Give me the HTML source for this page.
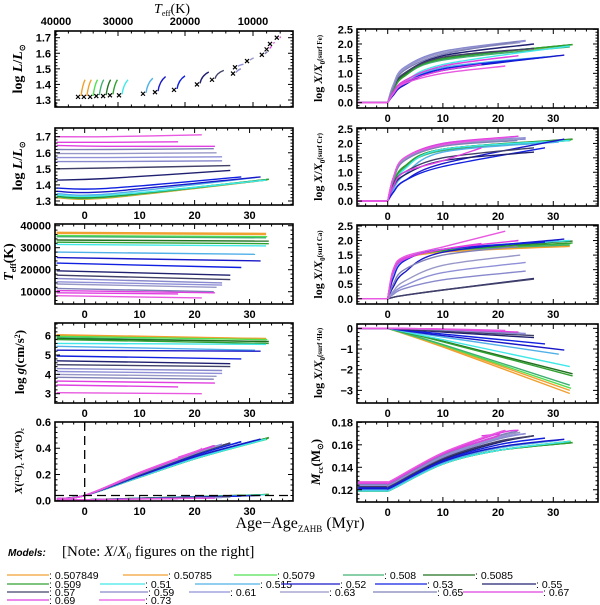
<!DOCTYPE html>
<html><head><meta charset="utf-8">
<style>
html,body{margin:0;padding:0;background:#fff;}
svg{display:block;font-family:"Liberation Sans",sans-serif;}
</style></head>
<body>
<svg id="fig" width="600" height="605" viewBox="0 0 600 605" xmlns="http://www.w3.org/2000/svg"></svg>
<script>
// ===== data =====
const masses = ["0.507849","0.50785","0.5079","0.508","0.5085","0.509","0.51","0.515","0.52","0.53","0.55","0.57","0.59","0.61","0.63","0.65","0.67","0.69","0.73"];
const colors = ["#f0a030","#f0a030","#50e050","#40b070","#207020","#30a030","#40e8e8","#50b0e8","#1818c8","#1020e0","#202070","#404068","#8888cc","#9090d8","#9898c8","#8080b8","#e040e0","#e040e0","#e858e0"];
const endAge = [33,33,33.2,33,33.5,33.5,33,31,32,28.5,26.5,26.5,25,25,24,23.5,23.7,17,21.3];
const logL0 = [1.32,1.322,1.324,1.326,1.33,1.332,1.336,1.345,1.36,1.38,1.43,1.50,1.545,1.57,1.595,1.62,1.645,1.665,1.70];
const logLmid = [1.318,1.32,1.322,1.324,1.328,1.33,1.334,1.343,1.358,1.378,1.44,1.505,1.545,1.57,1.595,1.62,1.64,1.665,1.70];
const logL1 = [1.43,1.43,1.432,1.43,1.435,1.435,1.43,1.445,1.45,1.45,1.49,1.52,1.55,1.575,1.60,1.625,1.64,1.668,1.712];
const hrTeff0 = [36450,35500,34500,33500,32400,31300,29850,26270,24480,21640,18240,16030,12940,12650,10880,8700,8000,7500,6500];
const hrTeff1 = [35300,34300,33300,32300,31200,30100,28500,24800,22900,20000,16500,14300,11800,11400,9900,7900,7300,6900,6100];
const hrL0 = [1.32,1.32,1.32,1.325,1.325,1.33,1.33,1.34,1.35,1.365,1.40,1.43,1.47,1.51,1.55,1.59,1.625,1.66,1.70];
const hrL1 = [1.43,1.43,1.43,1.43,1.43,1.43,1.43,1.44,1.45,1.455,1.48,1.49,1.50,1.53,1.57,1.61,1.645,1.67,1.70];
const teff0 = [37000,36500,35500,35000,33500,32500,31500,28000,25500,23000,19500,17500,16000,14500,13500,11500,10500,9500,8200];
const teff1 = [36500,36000,35000,34500,33000,31800,30800,27000,24000,21000,17500,15500,14000,13000,12000,10000,9500,9000,7200];
const logg0 = [6.05,6.0,5.97,5.9,5.85,5.8,5.6,5.45,5.25,4.95,4.7,4.5,4.3,4.15,4.0,3.85,3.65,3.45,3.05];
const logg1 = [5.85,5.85,5.8,5.7,5.7,5.6,5.55,5.25,5.2,4.8,4.55,4.4,4.2,4.05,3.9,3.75,3.55,3.35,3.0];
const anchorAges = [1,3,10];
const fe = [[0.4,0.9,1.5,1.95],[0.45,0.95,1.5,1.95],[0.45,0.95,1.5,1.97],[0.4,0.9,1.45,1.9],[0.45,0.95,1.5,1.98],[0.45,0.9,1.5,1.98],[0.3,0.7,1.3,1.93],[0.3,0.65,1.2,1.6],[0.25,0.6,1.1,1.62],[0.3,0.65,1.15,1.55],[0.5,1.0,1.6,2.0],[0.5,1.0,1.55,1.85],[0.6,1.2,1.75,2.12],[0.6,1.2,1.7,2.1],[0.55,1.15,1.7,2.05],[0.5,1.1,1.65,2.08],[0.35,0.75,1.25,1.6],[0.3,0.7,1.1,1.3],[0.3,0.65,1.0,1.25]];
const cr = [[0.6,1.2,1.8,2.12],[0.6,1.2,1.8,2.1],[0.6,1.2,1.8,2.12],[0.55,1.15,1.75,2.1],[0.6,1.2,1.8,2.15],[0.6,1.2,1.8,2.14],[0.5,1.1,1.8,2.1],[0.4,0.9,1.7,2.05],[0.3,0.7,1.3,2.15],[0.3,0.7,1.2,1.85],[0.5,0.9,1.4,1.7],[0.6,1.0,1.5,1.85],[0.8,1.4,1.95,2.15],[0.8,1.45,2.0,2.2],[0.8,1.45,1.95,2.15],[0.7,1.4,1.9,2.1],[0.8,1.5,2.0,2.25],[0.5,1.0,1.4,1.85],[0.8,1.5,1.95,2.2]];
const ca = [[0.9,1.35,1.6,1.8],[0.9,1.35,1.62,1.82],[0.9,1.35,1.65,1.9],[0.9,1.35,1.65,1.85],[0.9,1.35,1.68,1.98],[0.9,1.35,1.66,1.92],[0.9,1.35,1.7,2.0],[0.85,1.35,1.7,2.0],[0.4,0.9,1.6,2.05],[0.7,1.3,1.7,1.95],[0.05,0.12,0.3,0.7],[0.05,0.12,0.3,0.68],[0.15,0.35,0.65,0.95],[0.2,0.45,0.9,1.25],[0.25,0.6,1.15,1.5],[0.5,1.0,1.5,1.8],[0.9,1.35,1.7,2.0],[1.0,1.4,1.7,1.9],[1.0,1.45,1.78,2.32]];
const he10 = [-0.9,-0.85,-0.82,-0.78,-0.62,-0.65,-0.55,-0.42,-0.35,-0.28,-0.18,-0.14,-0.08,-0.07,-0.06,-0.05,-0.04,-0.04,-0.03];
const heEnd = [-3.15,-3.0,-2.9,-2.75,-2.2,-2.3,-1.85,-1.25,-1.05,-0.75,-0.45,-0.35,-0.28,-0.25,-0.22,-0.2,-0.18,-0.12,-0.1];
const mcc0 = [0.119,0.119,0.119,0.119,0.119,0.119,0.119,0.12,0.121,0.122,0.123,0.123,0.124,0.124,0.125,0.125,0.126,0.126,0.127];
const mcc10 = [0.143,0.143,0.143,0.143,0.143,0.143,0.143,0.144,0.145,0.146,0.147,0.148,0.149,0.15,0.151,0.151,0.152,0.152,0.153];
const mcc20 = [0.155,0.155,0.155,0.155,0.155,0.155,0.155,0.157,0.158,0.16,0.162,0.163,0.165,0.166,0.167,0.168,0.17,0.168,0.171];
const mccEnd = [0.163,0.163,0.163,0.163,0.162,0.162,0.163,0.164,0.165,0.166,0.168,0.168,0.17,0.17,0.171,0.172,0.173,0.168,0.172];
const c12at10 = [0.18,0.18,0.18,0.18,0.18,0.18,0.18,0.185,0.19,0.195,0.2,0.2,0.205,0.205,0.21,0.21,0.21,0.21,0.215];
const c12at20 = [0.32,0.32,0.32,0.32,0.32,0.32,0.32,0.33,0.335,0.345,0.355,0.355,0.36,0.362,0.365,0.367,0.37,0.37,0.372];
const c12End = [0.47,0.47,0.47,0.47,0.48,0.48,0.47,0.46,0.47,0.45,0.44,0.44,0.43,0.43,0.42,0.42,0.42,0.33,0.40];
const o16End = [0.045,0.045,0.045,0.045,0.048,0.048,0.045,0.04,0.04,0.035,0.03,0.03,0.025,0.025,0.022,0.022,0.02,0.015,0.02];
const teffTicks = [40000,30000,20000,10000];
const teffTickPx = [56,118,185,253];
// ===== drawing =====
const NS="http://www.w3.org/2000/svg";
const svg=document.getElementById('fig');
const SERIF='font-family:"Liberation Serif",serif';
function el(tag,attrs,parent){const e=document.createElementNS(NS,tag);for(const k in attrs)e.setAttribute(k,attrs[k]);(parent||svg).appendChild(e);return e;}
function mkPanel(name,x0,x1,y0,y1,xmin,xmax,ymin,ymax){
  const g=el('g',{});
  
  
  return {g,x0,x1,y0,y1,xmin,xmax,ymin,ymax,
    sx:v=>x0+(v-xmin)/(xmax-xmin)*(x1-x0),
    sy:v=>y1-(v-ymin)/(ymax-ymin)*(y1-y0)};
}
function smooth(pts){
  if(pts.length<3) return 'M'+pts.map(p=>p[0].toFixed(1)+','+p[1].toFixed(1)).join('L');
  let d='M'+pts[0][0].toFixed(1)+','+pts[0][1].toFixed(1);
  for(let i=0;i<pts.length-1;i++){
    const p0=pts[Math.max(0,i-1)],p1=pts[i],p2=pts[i+1],p3=pts[Math.min(pts.length-1,i+2)];
    const c1=[p1[0]+(p2[0]-p0[0])/6,p1[1]+(p2[1]-p0[1])/6];
    const c2=[p2[0]-(p3[0]-p1[0])/6,p2[1]-(p3[1]-p1[1])/6];
    d+='C'+c1[0].toFixed(1)+','+c1[1].toFixed(1)+' '+c2[0].toFixed(1)+','+c2[1].toFixed(1)+' '+p2[0].toFixed(1)+','+p2[1].toFixed(1);
  }
  return d;
}
function curve(P,xs,ys,color,name,w){
  const pts=xs.map((x,i)=>[P.sx(x),P.sy(ys[i])]);
  const p=el('path',{d:smooth(pts),fill:'none',stroke:color,'stroke-width':w||1.4,'stroke-linejoin':'round'},P.g);
  
  
  return p;
}
function frame(P,opt){
  const g=P.g;
  const xt=[-4,-2,0,2,4,6,8,10,12,14,16,18,20,22,24,26,28,30,32,34,36];
  xt.forEach(v=>{const X=P.sx(v);const L=(v%10===0)?5:2.5;
    if(!opt.noBottomTicks) el('line',{x1:X,x2:X,y1:P.y1,y2:P.y1-L,stroke:'#000','stroke-width':1},g);
    if(!opt.noTopTicks) el('line',{x1:X,x2:X,y1:P.y0,y2:P.y0+L,stroke:'#000','stroke-width':1},g);
  });
  for(let v=opt.yMinorStart;v<=P.ymax+1e-9;v+=opt.yMinor){
    if(v<P.ymin-1e-9) continue;
    const Y=P.sy(v);const isMaj=opt.yMajors.some(m=>Math.abs(m-v)<opt.yMinor/10);const L=isMaj?5:2.5;
    el('line',{x1:P.x0,x2:P.x0+L,y1:Y,y2:Y,stroke:'#000','stroke-width':1},g);
    el('line',{x1:P.x1,x2:P.x1-L,y1:Y,y2:Y,stroke:'#000','stroke-width':1},g);
  }
  const r=el('rect',{x:P.x0,y:P.y0,width:P.x1-P.x0,height:P.y1-P.y0,fill:'none',stroke:'#000','stroke-width':1.6},g);
  
  
  opt.yMajors.forEach((v,i)=>{
    const t=el('text',{x:P.x0-4,y:P.sy(v)+4,'text-anchor':'end','font-size':11,'font-weight':'bold'},g);
    t.textContent=opt.yLabels[i];
    
    
  });
  if(opt.xLabels){[0,10,20,30].forEach(v=>{
    const t=el('text',{x:P.sx(v),y:P.y1+14,'text-anchor':'middle','font-size':11,'font-weight':'bold'},g);
    t.textContent=String(v);
    
    
  });}
}
function ytitle(x,y,html,name,size,serif){
  const t=el('text',{x:0,y:0,transform:`translate(${x},${y}) rotate(-90)`,'text-anchor':'middle','font-size':size||12,'font-weight':'bold'});
  if(serif) t.setAttribute('style',SERIF);
  t.innerHTML=html;
  
  
}
const LX0=55,LX1=293,LXMIN=-5.4,LXMAX=37.9;
const RX0=357,RX1=598,RXMIN=-5.56,RXMAX=38.1;
const N=masses.length;

// ---- Panel 1: HR diagram ----
const P1=mkPanel('hr-diagram-panel',LX0,LX1,31,107,0,1,1.255,1.743);
function teffX(T){
  for(let i=0;i<teffTicks.length-1;i++){
    if(T<=teffTicks[i]&&T>=teffTicks[i+1]){const f=(teffTicks[i]-T)/(teffTicks[i]-teffTicks[i+1]);return teffTickPx[i]+f*(teffTickPx[i+1]-teffTickPx[i]);}
  }
  if(T>teffTicks[0]) return teffTickPx[0]-(T-teffTicks[0])*0.0062;
  return teffTickPx[3]+(teffTicks[3]-T)*0.0068;
}
for(let i=0;i<N;i++){
  const xa=teffX(hrTeff0[i]),xb=teffX(hrTeff1[i]),ya=P1.sy(hrL0[i]),yb=P1.sy(hrL1[i]);
  const p=el('path',{d:`M${(xa+3).toFixed(1)},${(ya-1).toFixed(1)}Q${(xa+4.5).toFixed(1)},${(yb+(ya-yb)*0.3).toFixed(1)} ${xb.toFixed(1)},${yb.toFixed(1)}`,fill:'none',stroke:colors[i],'stroke-width':1.4},P1.g);
  
  
  const m=el('path',{d:`M${xa-2},${ya-2}L${xa+2},${ya+2}M${xa-2},${ya+2}L${xa+2},${ya-2}`,stroke:'#000','stroke-width':1.2},P1.g);
  
  
}
frame(P1,{yMinorStart:1.26,yMinor:0.02,yMajors:[1.3,1.4,1.5,1.6,1.7],yLabels:['1.3','1.4','1.5','1.6','1.7'],noTopTicks:true,noBottomTicks:true});
for(let T=40000;T>=4000;T-=2000){const X=teffX(T);if(X<LX0||X>LX1)continue;const L=(T%10000===0)?5:2.5;
  el('line',{x1:X,x2:X,y1:31,y2:31+L,stroke:'#000','stroke-width':1},P1.g);
  el('line',{x1:X,x2:X,y1:107,y2:107-L,stroke:'#000','stroke-width':1},P1.g);}
teffTicks.forEach((T,i)=>{const t=el('text',{x:teffTickPx[i],y:25,'text-anchor':'middle','font-size':11,'font-weight':'bold'},P1.g);t.textContent=String(T);
  
  });
{const t=el('text',{x:172,y:13,'text-anchor':'middle','font-size':14,style:SERIF});t.innerHTML='<tspan font-style="italic">T</tspan><tspan font-size="8" dy="3">eff</tspan><tspan dy="-3">(K)</tspan>';
  
  }
ytitle(22,69,'log <tspan font-style="italic">L</tspan>/<tspan font-style="italic">L</tspan><tspan font-size="8" dy="3">⊙</tspan>','y-axis-title-logl-hr',14,true);

// ---- Panel 2 ----
const P2=mkPanel('logl-age-panel',LX0,LX1,128,205,LXMIN,LXMAX,1.275,1.754);
for(let i=0;i<N;i++) curve(P2,[LXMIN+0.3,4,endAge[i]],[logL0[i],logLmid[i],logL1[i]],colors[i],'logl-line-'+masses[i]);
frame(P2,{yMinorStart:1.28,yMinor:0.02,yMajors:[1.3,1.4,1.5,1.6,1.7],yLabels:['1.3','1.4','1.5','1.6','1.7'],xLabels:true});
ytitle(22,166,'log <tspan font-style="italic">L</tspan>/<tspan font-style="italic">L</tspan><tspan font-size="8" dy="3">⊙</tspan>','y-axis-title-logl',14,true);

// ---- Panel 3 ----
const P3=mkPanel('teff-age-panel',LX0,LX1,224,304,LXMIN,LXMAX,4409,40773);
for(let i=0;i<N;i++) curve(P3,[LXMIN+0.3,endAge[i]],[teff0[i],teff1[i]],colors[i],'teff-line-'+masses[i]);
frame(P3,{yMinorStart:6000,yMinor:2000,yMajors:[10000,20000,30000,40000],yLabels:['10000','20000','30000','40000'],xLabels:true});
ytitle(13,262,'<tspan font-style="italic">T</tspan><tspan font-size="8" dy="3">eff</tspan><tspan dy="-3">(K)</tspan>','y-axis-title-teff',14,true);

// ---- Panel 4 ----
const P4=mkPanel('logg-age-panel',LX0,LX1,323,403,LXMIN,LXMAX,2.519,6.657);
for(let i=0;i<N;i++) curve(P4,[LXMIN+0.3,endAge[i]],[logg0[i],logg1[i]],colors[i],'logg-line-'+masses[i]);
frame(P4,{yMinorStart:2.6,yMinor:0.2,yMajors:[3,4,5,6],yLabels:['3','4','5','6'],xLabels:true});
ytitle(24,362,'log <tspan font-style="italic">g</tspan>(cm/s<tspan font-size="8" dy="-4">2</tspan><tspan dy="4">)</tspan>','y-axis-title-logg',13,true);

// ---- Panel 5 ----
const P5=mkPanel('core-abundance-panel',LX0,LX1,422,501,LXMIN,LXMAX,-0.002,0.6);
for(let i=0;i<N;i++){
  curve(P5,[LXMIN+0.3,0,endAge[i]],[0.003,0.008,o16End[i]],colors[i],'o16-line-'+masses[i],1.2);
}
for(let i=0;i<N;i++){
  curve(P5,[LXMIN+0.3,0,10,20,endAge[i]],[0.015,0.04,c12at10[i],c12at20[i],c12End[i]],colors[i],'c12-line-'+masses[i],1.6);
}
{const d1=el('line',{x1:P5.sx(0),x2:P5.sx(0),y1:P5.y0,y2:P5.y1,stroke:'#000','stroke-width':1.3,'stroke-dasharray':'9,5'},P5.g);
 
 const d2=el('line',{x1:P5.x0,x2:P5.x1,y1:P5.sy(0.04),y2:P5.sy(0.04),stroke:'#000','stroke-width':1.3,'stroke-dasharray':'9,5'},P5.g);
 }
frame(P5,{yMinorStart:0,yMinor:0.04,yMajors:[0,0.2,0.4,0.6],yLabels:['0.0','0.2','0.4','0.6'],xLabels:true});
ytitle(22,461,'<tspan font-style="italic">X</tspan>(<tspan font-size="6" dy="-3">12</tspan><tspan dy="3">C)</tspan><tspan font-size="6" dy="2">c</tspan><tspan dy="-2">   </tspan><tspan font-style="italic">X</tspan>(<tspan font-size="6" dy="-3">16</tspan><tspan dy="3">O)</tspan><tspan font-size="6" dy="2">c</tspan>','y-axis-title-core',11,true);

// ---- Right panels ----
function flatPre(P,val,color,name){
  const l=el('line',{x1:P.sx(RXMIN+0.2),x2:P.sx(0),y1:P.sy(val),y2:P.sy(val),stroke:color,'stroke-width':1.6},P.g);
  
  
}
function abundPanel(name,y0,y1,ymin,ymax,arr,elemName,cx){
  const P=mkPanel(name,RX0,RX1,y0,y1,RXMIN,RXMAX,ymin,ymax);
  for(let i=0;i<N;i++){
    flatPre(P,0,colors[i],elemName+'-pre-zahb-'+masses[i]);
    curve(P,[0,...anchorAges,endAge[i]],[0,...arr[i]],colors[i],elemName+'-line-'+masses[i]);
  }
  frame(P,{yMinorStart:-0.1,yMinor:0.1,yMajors:[0,0.5,1,1.5,2,2.5],yLabels:['0.0','0.5','1.0','1.5','2.0','2.5'],xLabels:true});
  ytitle(322,(y0+y1)/2,'log <tspan font-style="italic">X</tspan>/<tspan font-style="italic">X</tspan><tspan font-size="7" dy="3">0</tspan><tspan dy="-3" font-size="7">(surf '+cx+')</tspan>','y-axis-title-'+elemName,12,true);
}
abundPanel('surface-fe-panel',29,108,-0.18,2.51,fe,'fe','Fe');
abundPanel('surface-cr-panel',128,206,-0.17,2.535,cr,'cr','Cr');
abundPanel('surface-ca-panel',225,304,-0.18,2.534,ca,'ca','Ca');

const R4=mkPanel('surface-he-panel',RX0,RX1,324,403,RXMIN,RXMAX,-3.61,0.21);
for(let i=0;i<N;i++){
  flatPre(R4,0,colors[i],'he-pre-zahb-'+masses[i]);
  curve(R4,[0,10,endAge[i]],[0,he10[i],heEnd[i]],colors[i],'he-line-'+masses[i]);
}
frame(R4,{yMinorStart:-3.6,yMinor:0.2,yMajors:[-3,-2,-1,0],yLabels:['−3','−2','−1','0'],xLabels:true});
ytitle(322,363,'log <tspan font-style="italic">X</tspan>/<tspan font-style="italic">X</tspan><tspan font-size="7" dy="3">0</tspan><tspan dy="-3" font-size="7">(surf ⁴He)</tspan>','y-axis-title-he',12,true);

const R5=mkPanel('convective-core-mass-panel',RX0,RX1,422,502,RXMIN,RXMAX,0.1091,0.1803);
for(let i=0;i<N;i++){
  flatPre(R5,mcc0[i],colors[i],'mcc-pre-zahb-'+masses[i]);
  curve(R5,[0,1,10,20,endAge[i]],[mcc0[i],mcc0[i]+0.002,mcc10[i],mcc20[i],mccEnd[i]],colors[i],'mcc-line-'+masses[i],1.5);
}
frame(R5,{yMinorStart:0.112,yMinor:0.004,yMajors:[0.12,0.14,0.16,0.18],yLabels:['0.12','0.14','0.16','0.18'],xLabels:true});
ytitle(320,462,'<tspan font-style="italic">M</tspan><tspan font-size="8" dy="3">cc</tspan><tspan dy="-3">(M</tspan><tspan font-size="8" dy="3">⊙</tspan><tspan dy="-3">)</tspan>','y-axis-title-mcc',13,true);

{const t=el('text',{x:300,y:528,'text-anchor':'middle','font-size':16,style:SERIF});
 t.innerHTML='Age−Age<tspan font-size="9" dy="4">ZAHB</tspan><tspan dy="-4"> (Myr)</tspan>';
 }

{const t=el('text',{x:8,y:556,'font-size':10,'font-weight':'bold','font-style':'italic'});t.textContent='Models:';
 
 const n=el('text',{x:62,y:556,'font-size':15,style:SERIF});
 n.innerHTML='[Note: <tspan font-style="italic">X</tspan>/<tspan font-style="italic">X</tspan><tspan font-size="9" dy="3">0</tspan><tspan dy="-3"> figures on the right]</tspan>';
 }
const legRows=[[0,5],[5,11],[11,17],[17,19]];
const legY=[575,584,592,600];
const legStart=[[7,123,234,343,423],[7,100,195,281,375,482],[7,100,189,280,373,463],[7,99]];
const legColon=[[49,168,277,384,475],[49,145,260,340,427,536],[49,148,230,329,437,543],[49,145]];
legRows.forEach((r,ri)=>{
  for(let i=r[0];i<r[1];i++){
    const k=i-r[0];
    const g=el('g',{});
    
    
    el('line',{x1:legStart[ri][k],x2:legColon[ri][k],y1:legY[ri],y2:legY[ri],stroke:colors[i],'stroke-width':1.3},g);
    const t=el('text',{x:legColon[ri][k],y:legY[ri]+4,'font-size':10.5},g);
    t.textContent=': '+masses[i];
  }
});
</script>
</body></html>
